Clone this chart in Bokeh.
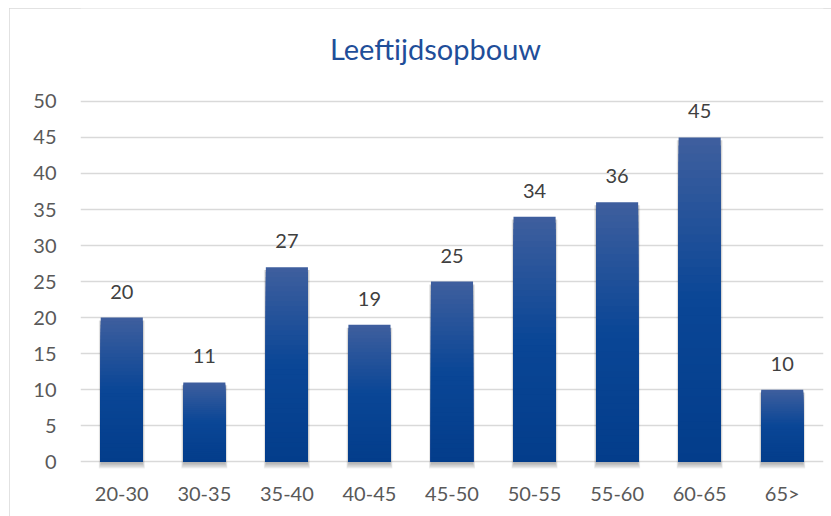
from bokeh.plotting import figure
from bokeh.models import ColumnDataSource, Range1d, FactorRange, Label
from bokeh.core.properties import value
from bokeh.embed import file_html
from bokeh.resources import INLINE

categories = ["20-30", "30-35", "35-40", "40-45", "45-50", "50-55", "55-60", "60-65", "65>"]
counts = [20, 11, 27, 19, 25, 34, 36, 45, 10]
y_ticks = [0, 5, 10, 15, 20, 25, 30, 35, 40, 45, 50]
title_text = "Leeftijdsopbouw"

FONT = "Lato"
BAR_W = 0.51

p = figure(x_range=FactorRange(*categories, range_padding=0),
           y_range=Range1d(-1.5, 62.9),
           width=822, height=508, output_backend="svg", toolbar_location=None,
           min_border_left=71, min_border_right=8, min_border_top=0, min_border_bottom=44)
p.title = None
p.margin = (8, 0, 0, 9)
p.styles = {"outline": "1px solid #d9d9d9", "outline-offset": "-1px"}
p.outline_line_color = None
p.background_fill_color = "white"
p.border_fill_color = "white"

# chart title, placed in the empty band above the 50 gridline
title = Label(x=4.30, y=57.4, text=title_text,
              text_align="center", text_baseline="middle", text_font=FONT,
              text_font_size="29px", text_color="#1f4e99")
p.add_layout(title)

# shadow layers
for i in range(5):
    p.vbar(x=categories, top=[v - 0.4 for v in counts], bottom=[-0.35 - 0.15 * i] * len(counts),
           width=BAR_W + 0.012 * i, fill_color="#000000", fill_alpha=0.06, line_color=None)

# gradient bars (stacked from tallest to shortest to avoid seams)
def hex2rgb(h):
    h = h.lstrip("#")
    return tuple(int(h[i:i + 2], 16) for i in (0, 2, 4))

bottom_c = hex2rgb("#033d8b")
mid_c = hex2rgb("#0a4696")
top_c = hex2rgb("#3f5f9e")

def lerp(a, b, f):
    return "#%02x%02x%02x" % tuple(int(round(a[k] + (b[k] - a[k]) * f)) for k in range(3))

N = 40
xs, bots, tops, cols = [], [], [], []
for k in range(N, 0, -1):
    tt = (k - 0.5) / N
    if tt < 0.5:
        col = lerp(bottom_c, mid_c, tt / 0.5)
    else:
        col = lerp(mid_c, top_c, (tt - 0.5) / 0.5)
    for c, v in zip(categories, counts):
        xs.append(c)
        bots.append(0)
        tops.append(v * k / N)
        cols.append(col)
src = ColumnDataSource(dict(x=xs, bottom=bots, top=tops, color=cols))
p.vbar(x="x", bottom="bottom", top="top", width=BAR_W, fill_color="color", line_color=None, source=src)

# data labels
lab = ColumnDataSource(dict(x=categories, y=counts, t=[str(v) for v in counts]))
p.text(x="x", y="y", text="t", source=lab, text_align="center", text_baseline="middle",
       y_offset=-26, text_font=value(FONT), text_font_size="20px", text_color="#404040")

p.xgrid.grid_line_color = None
p.ygrid.grid_line_color = "#d9d9d9"
p.ygrid.grid_line_width = 1.5
p.yaxis.ticker = y_ticks
p.axis.axis_line_color = None
p.axis.major_tick_line_color = None
p.axis.minor_tick_line_color = None
p.axis.major_label_text_font = FONT
p.axis.major_label_text_font_size = "20px"
p.axis.major_label_text_color = "#595959"
p.yaxis.major_label_standoff = 18
p.xaxis.major_label_standoff = 2

open("out.html", "w").write(file_html(p, INLINE))
